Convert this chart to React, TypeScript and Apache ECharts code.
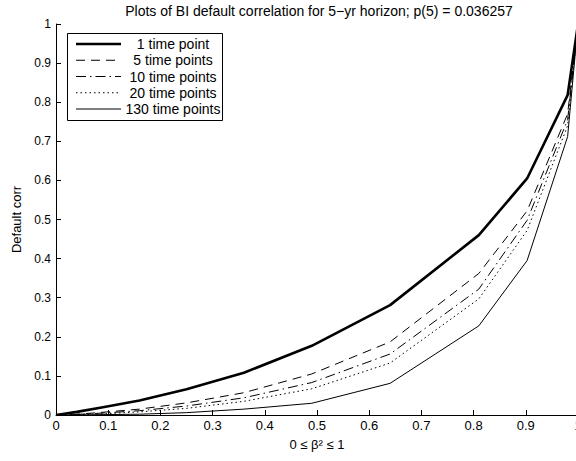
import React, { useEffect, useRef } from "react";
import * as echarts from "echarts";

// beta^2 sample points
const xValues = [0, 0.01, 0.04, 0.09, 0.16, 0.25, 0.36, 0.49, 0.64, 0.81, 0.9025, 0.9801, 1];

const seriesNames = ["1 time point", "5 time points", "10 time points", "20 time points", "130 time points"];

const tp1 = [0, 0.002, 0.008, 0.02, 0.037, 0.066, 0.108, 0.177, 0.281, 0.46, 0.605, 0.818, 1];
const tp5 = [0, 0.0005, 0.002, 0.007, 0.015, 0.031, 0.057, 0.105, 0.187, 0.362, 0.522, 0.77, 1];
const tp10 = [0, 0.0003, 0.0015, 0.005, 0.011, 0.023, 0.044, 0.083, 0.156, 0.322, 0.498, 0.755, 1];
const tp20 = [0, 0.0002, 0.001, 0.003, 0.008, 0.017, 0.035, 0.067, 0.133, 0.297, 0.472, 0.74, 1];
const tp130 = [0, 0, 0.0003, 0.001, 0.002, 0.006, 0.015, 0.03, 0.081, 0.228, 0.395, 0.712, 1];

const xTicks = [0, 0.1, 0.2, 0.3, 0.4, 0.5, 0.6, 0.7, 0.8, 0.9, 1];

const titleText = "Plots of BI default correlation for 5\u2212yr horizon; p(5) = 0.036257";
const xName = "0 \u2264 \u03b2\u00b2 \u2264 1";
const yName = "Default corr";

const FONT = "Liberation Sans, Arial, Helvetica, sans-serif";

const lineStyles: any[] = [
  { width: 2.6, dash: null },
  { width: 1, dash: [9, 6] },
  { width: 1, dash: [10, 4, 1.5, 4] },
  { width: 1, dash: [1.5, 3] },
  { width: 1, dash: null },
];

export default function App() {
  const ref = useRef<HTMLDivElement>(null);
  useEffect(() => {
    if (!ref.current) return;
    const chart = echarts.init(ref.current, undefined, { renderer: "svg" });
    const allSeries = [tp1, tp5, tp10, tp20, tp130];

    // legend drawn as a boxed graphic group (MATLAB style)
    const legendChildren: any[] = [
      {
        type: "rect",
        shape: { x: 67.5, y: 33.5, width: 155, height: 87 },
        style: { fill: "#fff", stroke: "#000", lineWidth: 1 },
      },
    ];
    seriesNames.forEach((name, i) => {
      const y = 44 + i * 16.25;
      const ls = lineStyles[i];
      legendChildren.push({
        type: "line",
        shape: { x1: 76, y1: y, x2: 121, y2: y },
        style: {
          stroke: "#000",
          lineWidth: ls.width,
          lineDash: ls.dash || undefined,
        },
      });
      legendChildren.push({
        type: "text",
        x: 173,
        y: y,
        style: {
          text: name,
          fill: "#000",
          fontSize: 14,
          fontFamily: FONT,
          align: "center",
          verticalAlign: "middle",
        },
      });
    });

    chart.setOption({
      animation: false,
      backgroundColor: "#fff",
      textStyle: { fontFamily: FONT },
      grid: { left: 56, top: 24, width: 522, height: 391, outerBoundsMode: "none", containLabel: false },
      graphic: [
        {
          type: "text",
          x: 319,
          y: 11,
          style: {
            text: titleText,
            fill: "#000",
            fontSize: 14,
            fontFamily: FONT,
            align: "center",
            verticalAlign: "middle",
          },
        },
        { type: "group", children: legendChildren, z: 100 },
      ],
      xAxis: {
        type: "value",
        min: 0,
        max: 1,
        interval: 0.1,
        name: xName,
        nameLocation: "middle",
        nameGap: 23,
        nameTextStyle: { fontSize: 13, color: "#000", fontFamily: FONT },
        axisLine: { lineStyle: { color: "#000", width: 1 } },
        axisTick: { inside: true, length: 5, lineStyle: { color: "#000" } },
        axisLabel: {
          fontSize: 13,
          color: "#000",
          margin: 4,
          fontFamily: FONT,
          formatter: (v: number) => {
            const t = xTicks.find((k) => Math.abs(k - v) < 1e-9);
            return t === undefined ? "" : String(t);
          },
        },
        splitLine: { show: false },
      },
      yAxis: {
        type: "value",
        min: 0,
        max: 1,
        interval: 0.1,
        name: yName,
        nameLocation: "middle",
        nameRotate: 90,
        nameGap: 32,
        nameTextStyle: { fontSize: 13, color: "#000", fontFamily: FONT },
        axisLine: { show: true, lineStyle: { color: "#000", width: 1 } },
        axisTick: { show: true, inside: true, length: 5, lineStyle: { color: "#000" } },
        axisLabel: {
          fontSize: 12,
          color: "#000",
          margin: 5,
          fontFamily: FONT,
          formatter: (v: number) => String(Math.round(v * 10) / 10),
        },
        splitLine: { show: false },
      },
      series: allSeries.map((vals, i) => ({
        name: seriesNames[i],
        type: "line",
        symbol: "none",
        showSymbol: false,
        data: xValues.map((x, j) => [x, vals[j]]),
        lineStyle: {
          color: "#000",
          cap: "butt",
          width: lineStyles[i].width,
          type: lineStyles[i].dash || "solid",
        },
        itemStyle: { color: "#000" },
      })),
    });
    return () => chart.dispose();
  }, []);
  return (
    <div
      ref={ref}
      style={{ position: "fixed", left: 0, top: 0, width: 576, height: 461, background: "#fff" }}
    />
  );
}
